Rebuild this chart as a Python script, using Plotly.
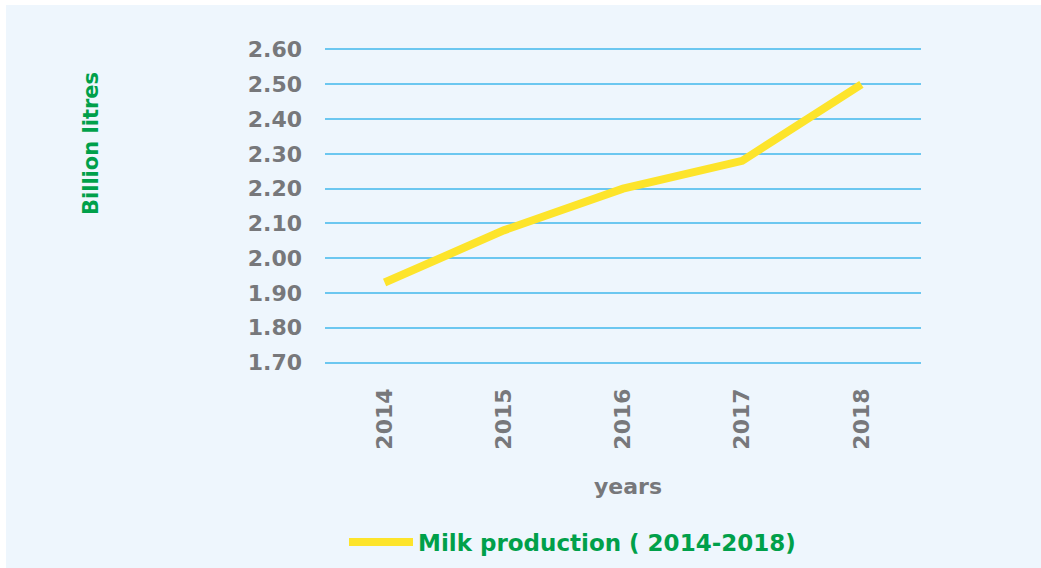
import plotly.graph_objects as go

years = ["2014", "2015", "2016", "2017", "2018"]
milk = [1.93, 2.08, 2.20, 2.28, 2.50]
y_ticks = [1.70, 1.80, 1.90, 2.00, 2.10, 2.20, 2.30, 2.40, 2.50, 2.60]
series_name = "Milk production ( 2014-2018)"

BG = "#EEF6FD"
GRID = "#6CC7F0"
GRAY = "#77787B"
GREEN = "#00A04A"
YELLOW = "#FDE42B"
FONT = "DejaVu Sans"

W, H = 1041, 568
L, R, T, B = 325, 120, 46, 202
pw, ph = W - L - R, H - T - B

def px_x(p):
    return (p - L) / pw

def px_y(p):
    return (H - B - p) / ph

fig = go.Figure()
fig.add_trace(go.Scatter(
    x=years, y=milk, mode="lines", name=series_name,
    line=dict(color=YELLOW, width=8),
))

fig.update_layout(
    width=W, height=H,
    margin=dict(l=L, r=R, t=T, b=B, pad=0, autoexpand=False),
    paper_bgcolor="white",
    plot_bgcolor="rgba(0,0,0,0)",
    font=dict(family=FONT, color=GRAY),
    showlegend=True,
    legend=dict(
        orientation="h", x=px_x(344), xanchor="left", y=px_y(542), yanchor="middle",
        font=dict(family=FONT, size=23, color=GREEN, weight="bold"),
        bgcolor="rgba(0,0,0,0)", itemwidth=64,
    ),
    xaxis=dict(
        type="category", range=[-0.5, 4.5], automargin=False,
        showgrid=False, zeroline=False, showline=False,
        tickangle=-90, ticklabelstandoff=17,
        tickfont=dict(family=FONT, size=22, color=GRAY, weight="bold"),
    ),
    yaxis=dict(
        range=[1.69, 2.61], tickvals=y_ticks, ticktext=[f"{v:.2f}" for v in y_ticks],
        automargin=False,
        showgrid=True, gridcolor=GRID, gridwidth=2, zeroline=False, showline=False,
        ticklabelstandoff=22,
        tickfont=dict(family=FONT, size=22, color=GRAY, weight="bold"),
    ),
    shapes=[dict(
        type="rect", xref="paper", yref="paper", layer="below",
        x0=px_x(6), x1=px_x(W + 5), y0=px_y(H + 5), y1=px_y(5),
        fillcolor=BG, line=dict(width=0),
    )],
    annotations=[
        dict(text="years", xref="paper", yref="paper", x=px_x(628), y=px_y(486),
             xanchor="center", yanchor="middle", showarrow=False,
             font=dict(family=FONT, size=22, color=GRAY, weight="bold")),
        dict(text="Billion litres", xref="paper", yref="paper", x=px_x(91), y=px_y(144),
             xanchor="center", yanchor="middle", showarrow=False, textangle=-90,
             font=dict(family=FONT, size=21, color=GREEN, weight="bold")),
    ],
)

fig.write_html("out.html")
